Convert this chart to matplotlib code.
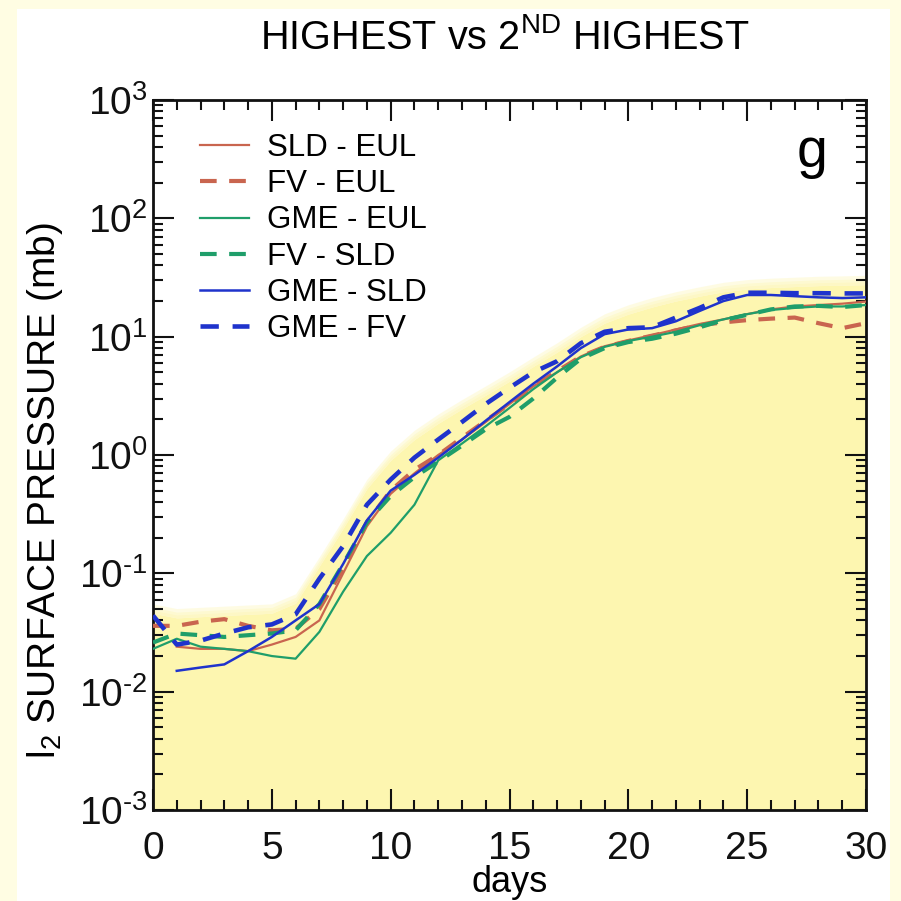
import numpy as np
import matplotlib
matplotlib.use("Agg")
import matplotlib.pyplot as plt
from matplotlib.patches import Rectangle
from matplotlib.ticker import LogLocator, FuncFormatter, MultipleLocator, NullFormatter

plt.rcParams["font.family"] = ["Liberation Sans", "DejaVu Sans"]
plt.rcParams["mathtext.fontset"] = "custom"
plt.rcParams["mathtext.rm"] = "Liberation Sans"
plt.rcParams["mathtext.it"] = "Liberation Sans:italic"
plt.rcParams["mathtext.default"] = "regular"

# ---- data: l2 surface-pressure differences (mb) per day ----
days = list(range(0, 31))
days_from1 = list(range(1, 31))

sld_eul = [0.024, 0.023, 0.023, 0.022, 0.025, 0.029, 0.040, 0.10, 0.25, 0.47,
           0.70, 1.0, 1.35, 1.9, 2.7, 3.8, 5.0, 6.8, 8.3, 9.3,
           10.3, 11.5, 12.8, 14.0, 15.5, 17.0, 18.0, 18.5, 19.0, 19.8]
fv_eul = [0.036, 0.036, 0.039, 0.041, 0.036, 0.033, 0.034, 0.05, 0.11, 0.27,
          0.50, 0.75, 1.0, 1.4, 1.95, 2.7, 3.8, 5.1, 6.8, 8.2,
          9.2, 10.2, 11.3, 12.5, 13.2, 13.8, 14.2, 14.5, 13.0, 11.8, 13.0]
gme_eul = [0.023, 0.028, 0.024, 0.023, 0.022, 0.020, 0.019, 0.032, 0.07, 0.14,
           0.22, 0.38, 0.90, 1.25, 1.75, 2.5, 3.6, 5.0, 6.7, 8.2,
           9.2, 10.0, 11.0, 12.5, 14.0, 15.5, 16.8, 17.5, 18.0, 18.0, 18.5]
fv_sld = [0.026, 0.031, 0.030, 0.029, 0.030, 0.031, 0.033, 0.055, 0.12, 0.27,
          0.45, 0.65, 0.88, 1.2, 1.65, 2.1, 3.0, 4.5, 6.5, 8.0,
          9.0, 9.6, 10.6, 12.0, 13.8, 15.3, 17.0, 18.0, 18.2, 17.8, 18.5]
gme_sld = [0.015, 0.016, 0.017, 0.022, 0.029, 0.040, 0.055, 0.12, 0.28, 0.50,
           0.68, 0.95, 1.35, 1.95, 2.8, 4.0, 5.6, 8.0, 10.5, 11.5,
           11.8, 13.5, 16.5, 20.0, 22.5, 22.5, 22.0, 21.5, 21.2, 21.5]
gme_fv = [0.044, 0.025, 0.027, 0.031, 0.035, 0.037, 0.045, 0.09, 0.17, 0.38,
          0.62, 0.95, 1.35, 1.9, 2.7, 3.7, 5.0, 6.2, 8.8, 11.0,
          11.8, 12.0, 14.5, 17.5, 21.5, 23.5, 23.5, 23.3, 23.3, 23.2, 23.2]

# upper envelope of the spread (shaded region)
envelope = [0.046, 0.042, 0.043, 0.044, 0.045, 0.046, 0.056, 0.115, 0.24, 0.52,
            0.90, 1.35, 1.85, 2.45, 3.2, 4.2, 5.6, 7.4, 10.0, 13.0,
            15.5, 17.8, 20.0, 22.0, 24.0, 25.3, 26.0, 26.5, 27.0, 27.2, 27.5]

labels = ["SLD - EUL", "FV - EUL", "GME - EUL", "FV - SLD", "GME - SLD", "GME - FV"]

RED = "#c9654f"
GREEN = "#1f9e6a"
BLUE = "#1f33cc"
FILL = "#fdf6b0"

fig = plt.figure(figsize=(9.01, 9.01), dpi=100)
fig.patch.set_facecolor("#fffde3")
fig.patches.append(Rectangle((17 / 901, 0), (890 - 17) / 901, 1 - 9 / 901,
                             transform=fig.transFigure, facecolor="white",
                             edgecolor="none", zorder=-10))

ax = fig.add_axes([153 / 901, 1 - 810 / 901, (866 - 153) / 901, (810 - 100) / 901])
ax.set_facecolor("white")

# shaded spread with a soft upper edge
env = np.array(envelope)
ax.fill_between(days, 1e-3, env, color=FILL, lw=0, zorder=1)
for k in (1.06, 1.12, 1.2):
    ax.fill_between(days, env, env * k, color=FILL, alpha=0.35, lw=0, zorder=1)

dash = (0, (4.0, 3.0))
ax.plot(days_from1, sld_eul, color=RED, lw=1.6, label=labels[0], zorder=3)
ax.plot(days, fv_eul, color=RED, lw=3.0, ls=dash, label=labels[1], zorder=3)
ax.plot(days, gme_eul, color=GREEN, lw=1.6, label=labels[2], zorder=3)
ax.plot(days, fv_sld, color=GREEN, lw=3.0, ls=dash, label=labels[3], zorder=3)
ax.plot(days_from1, gme_sld, color=BLUE, lw=1.8, label=labels[4], zorder=4)
ax.plot(days, gme_fv, color=BLUE, lw=3.3, ls=dash, label=labels[5], zorder=4)

ax.set_yscale("log")
ax.set_xlim(0, 30)
ax.set_ylim(1e-3, 1e3)
ax.xaxis.set_major_locator(MultipleLocator(5))
ax.xaxis.set_minor_locator(MultipleLocator(1))
ax.yaxis.set_major_locator(LogLocator(base=10, numticks=10))
ax.yaxis.set_minor_locator(LogLocator(base=10, subs=np.arange(2, 10), numticks=20))
ax.yaxis.set_major_formatter(
    FuncFormatter(lambda v, pos: r"10$^{\text{%d}}$" % round(np.log10(v))))
ax.yaxis.set_minor_formatter(NullFormatter())

ax.tick_params(which="both", direction="in", top=True, right=True, width=1.5,
               labelsize=28, colors="#111111")
ax.tick_params(which="major", length=15)
ax.tick_params(which="minor", length=7)
ax.tick_params(axis="x", which="major", pad=15)
ax.tick_params(axis="y", which="major", pad=4)
for s in ax.spines.values():
    s.set_linewidth(2.0)
    s.set_color("#111111")

ax.set_xlabel("days", fontsize=26, labelpad=-1)
ax.set_ylabel(r"l$_\mathregular{2}$ SURFACE PRESSURE (mb)", fontsize=28)
ax.yaxis.set_label_coords(-0.124, 0.45)
fig.text(0.56, 0.958, r"HIGHEST vs 2$^\mathregular{ND}$ HIGHEST", fontsize=28.5,
         ha="center", va="center")
ax.text(0.925, 0.925, "g", transform=ax.transAxes, fontsize=40, ha="center", va="center")

leg = ax.legend(loc="upper left", bbox_to_anchor=(0.04, 0.98), frameon=False,
                fontsize=22.5, handlelength=1.55, handletextpad=0.6, labelspacing=0.2,
                borderaxespad=0.2)

fig.savefig("out.png", dpi=100, facecolor=fig.get_facecolor())
